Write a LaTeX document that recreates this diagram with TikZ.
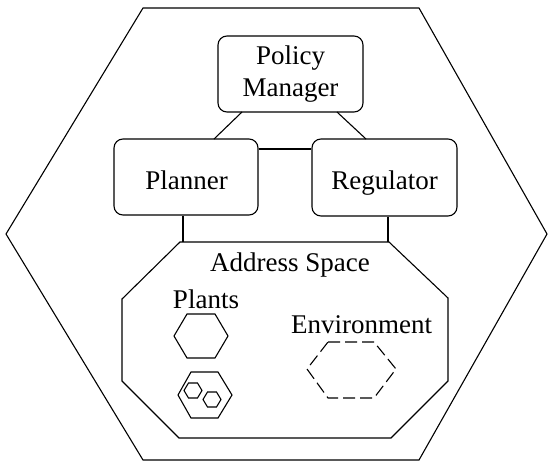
\documentclass[tikz,border=0pt]{standalone}
\usepackage{fontspec}
\setmainfont{Liberation Serif}
\begin{document}
\begin{tikzpicture}[x=1pt,y=-1pt,
  line width=1.1pt, line join=miter,
  lbl/.style={inner sep=0pt, font=\fontsize{27}{32}\selectfont},
  box/.style={draw, rounded corners=9pt, inner sep=0pt},
  envline/.style={dash pattern=on 12pt off 5pt}]
\useasboundingbox (0,0) rectangle (551,461);

% outer hexagon
\draw (143,8) -- (419,8) -- (547,234) -- (419,460) -- (143,460) -- (6,234) -- cycle;

% component boxes
\node[box, minimum width=145pt, minimum height=76pt] (pm) at (290.5,74) {};
\node[lbl, align=center] (pmt) at (290.5,74) {Policy\\Manager};
\node[box, minimum width=144pt, minimum height=76pt] (pl) at (186,177) {};
\node[lbl, anchor=base] (plt) at (186.5,189) {Planner};
\node[box, minimum width=145pt, minimum height=77pt] (rg) at (384.5,177.5) {};
\node[lbl, anchor=base] (rgt) at (384.5,189) {Regulator};

% address space octagon
\coordinate (as1) at (183,242);
\coordinate (as2) at (388,242);
\draw (180,242) -- (389,242) -- (448,298) -- (448,381) -- (391,438) -- (179,438)
      -- (122,381) -- (122,299) -- cycle;
\node[lbl, anchor=base] (ast) at (290,271) {Address Space};

% connectors
\coordinate (pmL) at (242,112);
\coordinate (pmR) at (337,112);
\coordinate (plT) at (214,139);
\coordinate (rgT) at (366,139);
\draw (pmL) -- (plT);
\draw (pmR) -- (rgT);
\draw (pl.east |- 0,149) -- (rg.west |- 0,149);
\draw (pl.south -| as1) -- (as1);
\draw (rg.south -| as2) -- (as2);

% plants
\node[lbl, anchor=base] (plants) at (206,308) {Plants};
\draw (187,314) -- (215,314) -- (228,336) -- (215,358) -- (187,358) -- (174,336) -- cycle;
\draw (191,372) -- (218,372) -- (232,395) -- (218,418) -- (191,418) -- (178,395) -- cycle;
\draw (188.5,383) -- (197.5,383) -- (202,390.5) -- (197.5,398) -- (188.5,398) -- (184,390.5) -- cycle;
\draw (207.5,392) -- (216.5,392) -- (221,399.5) -- (216.5,407) -- (207.5,407) -- (203,399.5) -- cycle;

% environment
\node[lbl, anchor=base] (envt) at (361.5,333) {Environment};
\draw[envline] (328,342) -- (374,342) -- (396,369) -- (374,398) -- (328,398) -- (307,369) -- cycle;
\end{tikzpicture}
\end{document}
